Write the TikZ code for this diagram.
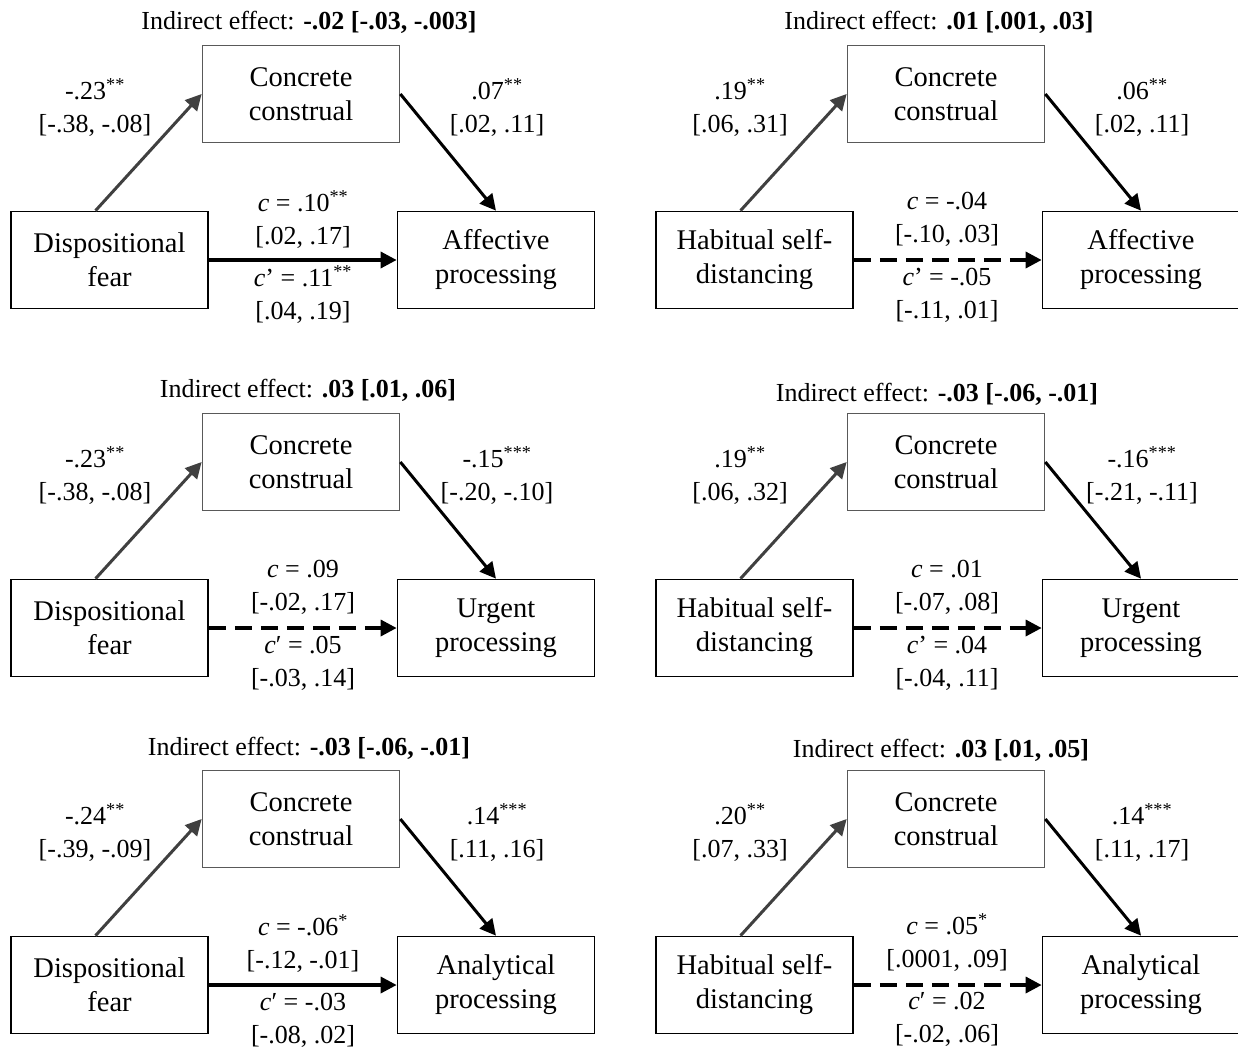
\documentclass[tikz,border=0pt]{standalone}
\usepackage{fontspec}
\setmainfont{Liberation Serif}
\usetikzlibrary{arrows.meta}

% confidence interval in brackets (safe after \\ in multi-line nodes)
\newcommand\ival[1]{{[}#1{]}}
\newcommand\sig[1]{\textsuperscript{#1}}

\tikzset{
  var/.style={draw=black, line width=1.7pt, minimum width=197pt, minimum height=97pt,
    align=center, inner sep=0pt, font=\fontsize{28.5}{34}\selectfont},
  medvar/.style={var, draw=black!65},
  coef/.style={align=center, inner sep=0pt, font=\fontsize{26}{33}\selectfont},
  headline/.style={inner sep=0pt, font=\fontsize{26}{31}\selectfont},
  tip/.style={-{Triangle[length=16pt,width=16pt]}},
  apath/.style={tip, draw=black!75, line width=3pt},
  bpath/.style={tip, draw=black, line width=3pt},
  direct/.style={tip, draw=black, line width=3.4pt},
  nonsig/.style={direct, dash pattern=on 17pt off 9pt},
}

\begin{document}
\begin{tikzpicture}[x=1pt,y=-1pt]
\useasboundingbox (0,0) rectangle (1238,1049);
\fill[white] (0,0) rectangle (1238,1049);

% ---------- Dispositional fear -> Affective processing ----------
\begin{scope}[shift={(0,0)}]
  \node[headline] (T1) at (309,22) {Indirect effect: \textbf{-.02 [-.03, -.003]}};
  \node[medvar] (M1) at (301,94) {Concrete\\construal};
  \node[var] (X1) at (109.5,260) {Dispositional\\fear};
  \node[var] (Y1) at (496,260) {Affective\\processing};
  \draw[apath] ([xshift=-14pt]X1.north) -- (M1.west);
  \draw[bpath] (M1.east) -- (Y1.north);
  \draw[direct] (X1.east) -- (Y1.west);
  \node[coef] (a1) at (95,108) {-.23\sig{**}\\\ival{-.38, -.08}};
  \node[coef] (b1) at (497,108) {.07\sig{**}\\\ival{.02, .11}};
  \node[coef] (c1) at (303,220) {\textit{c} = .10\sig{**}\\\ival{.02, .17}};
  \node[coef] (d1) at (303,295) {\textit{c}’ = .11\sig{**}\\\ival{.04, .19}};
\end{scope}

% ---------- Habitual self-distancing -> Affective processing ----------
\begin{scope}[shift={(645,0)}]
  \node[headline] (T2) at (294,22) {Indirect effect: \textbf{.01 [.001, .03]}};
  \node[medvar] (M2) at (301,94) {Concrete\\construal};
  \node[var] (X2) at (109.5,260) {Habitual self-\\distancing};
  \node[var] (Y2) at (496,260) {Affective\\processing};
  \draw[apath] ([xshift=-14pt]X2.north) -- (M2.west);
  \draw[bpath] (M2.east) -- (Y2.north);
  \draw[nonsig] (X2.east) -- (Y2.west);
  \node[coef] (a2) at (95,108) {.19\sig{**}\\\ival{.06, .31}};
  \node[coef] (b2) at (497,108) {.06\sig{**}\\\ival{.02, .11}};
  \node[coef] (c2) at (302,219) {\textit{c} = -.04\\\ival{-.10, .03}};
  \node[coef] (d2) at (302,295) {\textit{c}’ = -.05\\\ival{-.11, .01}};
\end{scope}

% ---------- Dispositional fear -> Urgent processing ----------
\begin{scope}[shift={(0,368)}]
  \node[headline] (T3) at (308,22) {Indirect effect: \textbf{.03 [.01, .06]}};
  \node[medvar] (M3) at (301,94) {Concrete\\construal};
  \node[var] (X3) at (109.5,260) {Dispositional\\fear};
  \node[var] (Y3) at (496,260) {Urgent\\processing};
  \draw[apath] ([xshift=-14pt]X3.north) -- (M3.west);
  \draw[bpath] (M3.east) -- (Y3.north);
  \draw[nonsig] (X3.east) -- (Y3.west);
  \node[coef] (a3) at (95,108) {-.23\sig{**}\\\ival{-.38, -.08}};
  \node[coef] (b3) at (497,108) {-.15\sig{***}\\\ival{-.20, -.10}};
  \node[coef] (c3) at (303,219) {\textit{c} = .09\\\ival{-.02, .17}};
  \node[coef] (d3) at (303,295) {\textit{c}′ = .05\\\ival{-.03, .14}};
\end{scope}

% ---------- Habitual self-distancing -> Urgent processing ----------
\begin{scope}[shift={(645,368)}]
  \node[headline] (T4) at (292,26) {Indirect effect: \textbf{-.03 [-.06, -.01]}};
  \node[medvar] (M4) at (301,94) {Concrete\\construal};
  \node[var] (X4) at (109.5,260) {Habitual self-\\distancing};
  \node[var] (Y4) at (496,260) {Urgent\\processing};
  \draw[apath] ([xshift=-14pt]X4.north) -- (M4.west);
  \draw[bpath] (M4.east) -- (Y4.north);
  \draw[nonsig] (X4.east) -- (Y4.west);
  \node[coef] (a4) at (95,108) {.19\sig{**}\\\ival{.06, .32}};
  \node[coef] (b4) at (497,108) {-.16\sig{***}\\\ival{-.21, -.11}};
  \node[coef] (c4) at (302,219) {\textit{c} = .01\\\ival{-.07, .08}};
  \node[coef] (d4) at (302,295) {\textit{c}’ = .04\\\ival{-.04, .11}};
\end{scope}

% ---------- Dispositional fear -> Analytical processing ----------
\begin{scope}[shift={(0,725)}]
  \node[headline] (T5) at (309,23) {Indirect effect: \textbf{-.03 [-.06, -.01]}};
  \node[medvar] (M5) at (301,94) {Concrete\\construal};
  \node[var] (X5) at (109.5,260) {Dispositional\\fear};
  \node[var] (Y5) at (496,260) {Analytical\\processing};
  \draw[apath] ([xshift=-14pt]X5.north) -- (M5.west);
  \draw[bpath] (M5.east) -- (Y5.north);
  \draw[direct] (X5.east) -- (Y5.west);
  \node[coef] (a5) at (95,108) {-.24\sig{**}\\\ival{-.39, -.09}};
  \node[coef] (b5) at (497,108) {.14\sig{***}\\\ival{.11, .16}};
  \node[coef] (c5) at (303,219) {\textit{c} = -.06\sig{*}\\\ival{-.12, -.01}};
  \node[coef] (d5) at (303,295) {\textit{c}′ = -.03\\\ival{-.08, .02}};
\end{scope}

% ---------- Habitual self-distancing -> Analytical processing ----------
\begin{scope}[shift={(645,725)}]
  \node[headline] (T6) at (296,25) {Indirect effect: \textbf{.03 [.01, .05]}};
  \node[medvar] (M6) at (301,94) {Concrete\\construal};
  \node[var] (X6) at (109.5,260) {Habitual self-\\distancing};
  \node[var] (Y6) at (496,260) {Analytical\\processing};
  \draw[apath] ([xshift=-14pt]X6.north) -- (M6.west);
  \draw[bpath] (M6.east) -- (Y6.north);
  \draw[nonsig] (X6.east) -- (Y6.west);
  \node[coef] (a6) at (95,108) {.20\sig{**}\\\ival{.07, .33}};
  \node[coef] (b6) at (497,108) {.14\sig{***}\\\ival{.11, .17}};
  \node[coef] (c6) at (302,218) {\textit{c} = .05\sig{*}\\\ival{.0001, .09}};
  \node[coef] (d6) at (302,294) {\textit{c}′ = .02\\\ival{-.02, .06}};
\end{scope}
\end{tikzpicture}
\end{document}
